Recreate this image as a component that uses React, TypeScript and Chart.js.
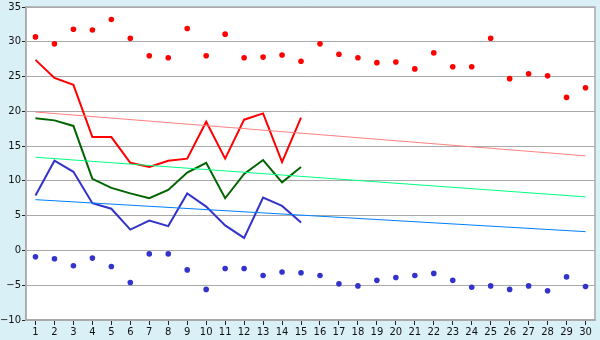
import React, { useEffect, useRef } from "react";
import { Chart, registerables } from "chart.js";

Chart.register(...registerables);

const days = ["1","2","3","4","5","6","7","8","9","10","11","12","13","14","15","16","17","18","19","20","21","22","23","24","25","26","27","28","29","30"];

const maxPoints = [30.7, 29.7, 31.8, 31.7, 33.2, 30.5, 28.0, 27.7, 31.9, 28.0, 31.1, 27.7, 27.8, 28.1, 27.2, 29.7, 28.2, 27.7, 27.0, 27.1, 26.1, 28.4, 26.4, 26.4, 30.5, 24.7, 25.4, 25.1, 22.0, 23.4];
const minPoints = [-0.9, -1.2, -2.2, -1.1, -2.3, -4.6, -0.5, -0.5, -2.8, -5.6, -2.6, -2.6, -3.6, -3.1, -3.2, -3.6, -4.8, -5.1, -4.3, -3.9, -3.6, -3.3, -4.3, -5.3, -5.1, -5.6, -5.1, -5.8, -3.8, -5.2];
const highLine = [27.4, 24.8, 23.8, 16.3, 16.3, 12.6, 12.0, 12.9, 13.2, 18.5, 13.2, 18.8, 19.7, 12.7, 19.1];
const meanLine = [19.0, 18.7, 17.9, 10.3, 9.0, 8.2, 7.5, 8.7, 11.2, 12.6, 7.5, 11.0, 13.0, 9.8, 12.0];
const lowLine = [7.9, 12.9, 11.3, 6.8, 6.0, 3.0, 4.3, 3.5, 8.2, 6.3, 3.6, 1.8, 7.6, 6.4, 4.0];
const highTrend = [19.9, 13.6];
const meanTrend = [13.4, 7.7];
const lowTrend = [7.3, 2.7];
const yTicks = [-10, -5, 0, 5, 10, 15, 20, 25, 30, 35];

function trend(ends: number[]) {
  return days.map((_, i) => (i === 0 ? ends[0] : i === days.length - 1 ? ends[1] : null));
}

const bgPlugin = {
  id: "bgPlugin",
  beforeDraw(chart: any) {
    const { ctx, chartArea } = chart;
    ctx.save();
    ctx.fillStyle = "#daf0f7";
    ctx.fillRect(0, 0, chart.width, chart.height);
    ctx.fillStyle = "#ffffff";
    ctx.fillRect(chartArea.left, chartArea.top, chartArea.right - chartArea.left, chartArea.bottom - chartArea.top);
    ctx.restore();
  },
  afterDatasetsDraw(chart: any) {
    const { ctx, chartArea } = chart;
    ctx.save();
    ctx.strokeStyle = "#aaaaaa";
    ctx.lineWidth = 1.5;
    ctx.strokeRect(chartArea.left, chartArea.top, chartArea.right - chartArea.left, chartArea.bottom - chartArea.top);
    ctx.restore();
  },
};

export default function App() {
  const ref = useRef<HTMLCanvasElement>(null);
  useEffect(() => {
    document.body.style.margin = "0";
    const font = { family: "DejaVu Sans", size: 10 };
    const chart = new Chart(ref.current!, {
      type: "line",
      data: {
        labels: days,
        datasets: [
          { data: trend(highTrend), borderColor: "#ff8080", borderWidth: 1, pointRadius: 0, spanGaps: true },
          { data: trend(meanTrend), borderColor: "#00ff80", borderWidth: 1, pointRadius: 0, spanGaps: true },
          { data: trend(lowTrend), borderColor: "#0080ff", borderWidth: 1, pointRadius: 0, spanGaps: true },
          { data: highLine, borderColor: "#ff0000", borderWidth: 2, pointRadius: 0 },
          { data: meanLine, borderColor: "#006400", borderWidth: 2, pointRadius: 0 },
          { data: lowLine, borderColor: "#3333cc", borderWidth: 2, pointRadius: 0 },
          { data: maxPoints, showLine: false, pointRadius: 2.8, pointBackgroundColor: "#ff0000", pointBorderColor: "#ff0000", pointBorderWidth: 0, borderColor: "#ff0000" },
          { data: minPoints, showLine: false, pointRadius: 2.8, pointBackgroundColor: "#3333cc", pointBorderColor: "#3333cc", pointBorderWidth: 0, borderColor: "#3333cc" },
        ],
      },
      options: {
        animation: false,
        responsive: false,
        devicePixelRatio: 1,
        layout: { padding: { top: 5, right: 5, left: 0, bottom: 0 } },
        plugins: { legend: { display: false }, tooltip: { enabled: false } },
        scales: {
          x: {
            offset: true,
            grid: { display: true, drawOnChartArea: false, drawTicks: true, tickLength: 5, tickColor: "#222222", offset: false },
            border: { display: true, color: "#aaaaaa", width: 1.5 },
            ticks: { color: "#111111", font, padding: 1, maxRotation: 0, autoSkip: false },
            afterFit(axis: any) { axis.height = 20; },
          },
          y: {
            min: -10,
            max: 35,
            afterBuildTicks(axis: any) { axis.ticks = yTicks.map((v) => ({ value: v })); },
            grid: { color: "#aaaaaa", lineWidth: 1, drawTicks: true, tickLength: 4, tickColor: "#222222" },
            border: { display: true, color: "#aaaaaa", width: 1.5 },
            ticks: {
              color: "#111111",
              font,
              padding: 1,
              callback: (v: any) => String(v).replace("-", "\u2212"),
            },
            afterFit(axis: any) { axis.width = 26; },
          },
        },
      },
      plugins: [bgPlugin],
    });
    return () => chart.destroy();
  }, []);
  return (
    <div style={{ width: 600, height: 340 }}>
      <canvas ref={ref} width={600} height={340} />
    </div>
  );
}
